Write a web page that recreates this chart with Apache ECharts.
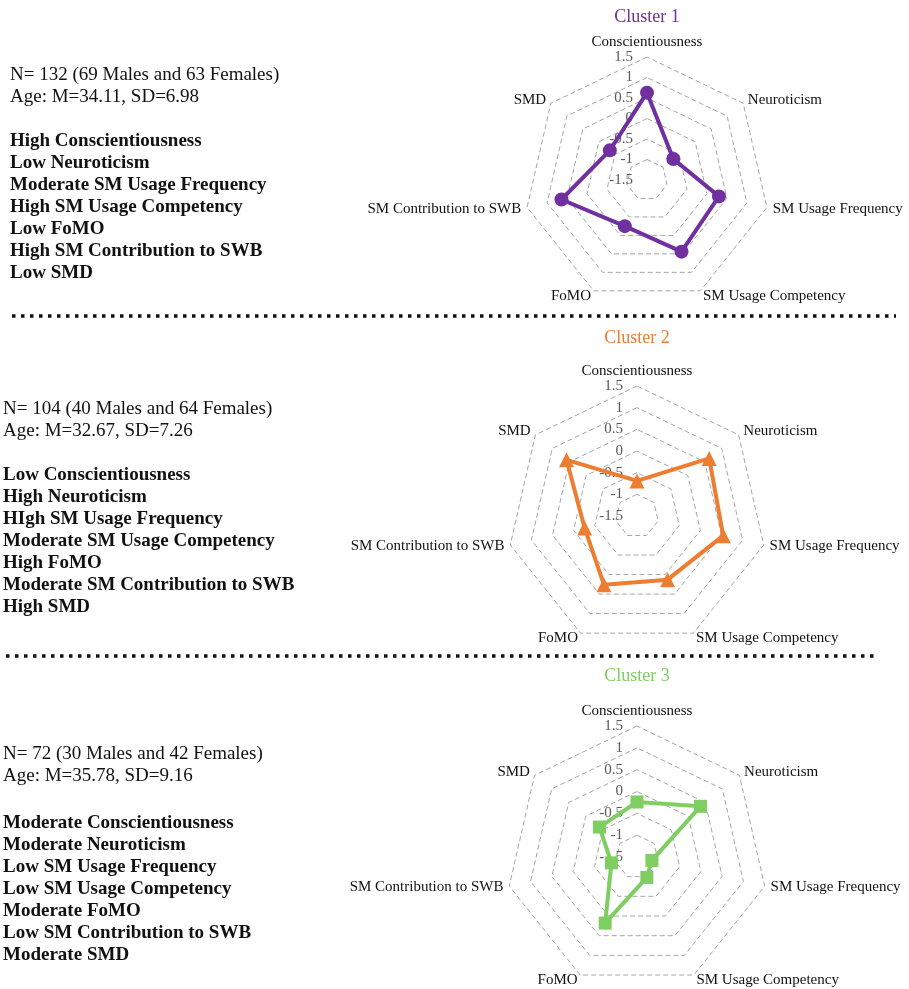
<!DOCTYPE html>
<html><head><meta charset="utf-8">
<script src="https://cdn.jsdelivr.net/npm/echarts@6/dist/echarts.min.js"></script>
<style>html,body{margin:0;padding:0;background:#fff}#c{width:909px;height:989px}</style>
</head><body><div id="c"></div>
<script>
// ---- data ----
const indicatorNames = ['Conscientiousness', 'Neuroticism', 'SM Usage Frequency', 'SM Usage Competency', 'FoMO', 'SM Contribution to SWB', 'SMD'];
const axisMin = -1.5;
const axisMax = 1.5;
const clusterNames = ['Cluster 1', 'Cluster 2', 'Cluster 3'];
const cluster1Values = [0.63, -0.68, 0.30, 0.44, -0.25, 0.64, -0.34];
const cluster2Values = [-0.69, 0.63, 0.54, 0.13, 0.26, -0.26, 0.58];
const cluster3Values = [-0.24, 0.36, -1.15, -0.98, 0.18, -0.90, -0.40];
const cluster1Demographics = ['N= 132 (69 Males and 63 Females)', 'Age: M=34.11, SD=6.98'];
const cluster2Demographics = ['N= 104 (40 Males and 64 Females)', 'Age: M=32.67, SD=7.26'];
const cluster3Demographics = ['N= 72 (30 Males and 42 Females)', 'Age: M=35.78, SD=9.16'];
const cluster1Profile = ['High Conscientiousness', 'Low Neuroticism', 'Moderate SM Usage Frequency', 'High SM Usage Competency', 'Low FoMO', 'High SM Contribution to SWB', 'Low SMD'];
const cluster2Profile = ['Low Conscientiousness', 'High Neuroticism', 'HIgh SM Usage Frequency', 'Moderate SM Usage Competency', 'High FoMO', 'Moderate SM Contribution to SWB', 'High SMD'];
const cluster3Profile = ['Moderate Conscientiousness', 'Moderate Neuroticism', 'Low SM Usage Frequency', 'Low SM Usage Competency', 'Moderate FoMO', 'Low SM Contribution to SWB', 'Moderate SMD'];

// ---- layout / style ----
const FONT = '"Liberation Serif", "Times New Roman", serif';
const colors = ['#7030A0', '#ED7D31', '#7FCE62'];
const symbols = ['circle', 'triangle', 'rect'];
const symbolSizes = [14, 15, 13];
const centers = [[647, 180], [637, 516], [637, 857]];
const radii = [123, 130, 131];
const titleY = [8, 329, 667];
const textX = [10, 3, 3];
const demoTop = [64, 398, 743];
const profTop = [130, 464, 812];

// ECharts radar runs counter-clockwise; reference runs clockwise -> reorder
const order = [0, 6, 5, 4, 3, 2, 1];
const allValues = [cluster1Values, cluster2Values, cluster3Values];
const allDemo = [cluster1Demographics, cluster2Demographics, cluster3Demographics];
const allProf = [cluster1Profile, cluster2Profile, cluster3Profile];

const radar = centers.map((c, k) => ({
  center: c,
  radius: radii[k],
  startAngle: 90,
  shape: 'polygon',
  splitNumber: 6,
  indicator: order.map((i, j) => {
    const ind = { name: indicatorNames[i], min: axisMin, max: axisMax };
    if (j === 0) ind.axisLabel = { show: true };
    return ind;
  }),
  axisName: { color: '#111', fontFamily: FONT, fontSize: 15 },
  nameGap: 6,
  axisLine: { show: false },
  axisTick: { show: false },
  axisLabel: { show: false, color: '#595959', fontFamily: FONT, fontSize: 15, margin: 14, showMinLabel: true, showMaxLabel: true },
  splitLine: { lineStyle: { color: '#A6A6A6', type: [5, 3], width: 1 } },
  splitArea: { show: false }
}));

const series = allValues.map((vals, k) => ({
  type: 'radar',
  radarIndex: k,
  name: clusterNames[k],
  symbol: symbols[k],
  symbolSize: symbolSizes[k],
  lineStyle: { color: colors[k], width: 4 },
  itemStyle: { color: colors[k] },
  data: [{ value: order.map(i => vals[i]), name: clusterNames[k] }]
}));

const title = clusterNames.map((n, k) => ({
  text: n, left: centers[k][0], top: titleY[k], textAlign: 'center', padding: 0,
  textStyle: { color: colors[k], fontFamily: FONT, fontSize: 18, fontWeight: 'normal' }
}));

const graphic = [];
for (let k = 0; k < 3; k++) {
  graphic.push({
    type: 'text', left: textX[k], top: demoTop[k],
    style: { text: allDemo[k].join('\n'), font: '19px ' + FONT, fill: '#111', lineHeight: 22 }
  });
  graphic.push({
    type: 'text', left: textX[k], top: profTop[k],
    style: { text: allProf[k].join('\n'), font: 'bold 19px ' + FONT, fill: '#111', lineHeight: 22 }
  });
}
graphic.push({ type: 'line', shape: { x1: 12, y1: 316, x2: 896, y2: 316 }, style: { stroke: '#111', lineWidth: 3.5, lineDash: [3.5, 5.5] } });
graphic.push({ type: 'line', shape: { x1: 6, y1: 656, x2: 876, y2: 656 }, style: { stroke: '#111', lineWidth: 3.5, lineDash: [3.5, 5.5] } });

const chart = echarts.init(document.getElementById('c'));
chart.setOption({ animation: false, backgroundColor: '#fff', title, radar, series, graphic });
</script></body></html>
